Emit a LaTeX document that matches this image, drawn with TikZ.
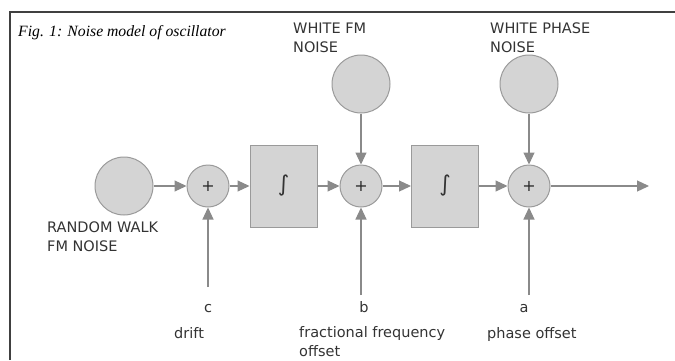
\documentclass[tikz,border=0pt]{standalone}
\usepackage{fontspec}
\setmainfont{Liberation Serif}
\newfontfamily\labfont{DejaVu Sans}
\usetikzlibrary{arrows.meta}
\definecolor{fillg}{HTML}{D4D4D4}
\definecolor{edgeg}{HTML}{9A9A9A}
\definecolor{arrg}{HTML}{8A8A8A}
\definecolor{txtg}{HTML}{333333}
\begin{document}
\begin{tikzpicture}[x=1pt,y=-1pt,
  src/.style={circle,fill=fillg,draw=edgeg,line width=1pt,minimum size=58pt,inner sep=0pt},
  sumnode/.style={circle,fill=fillg,draw=edgeg,line width=1pt,minimum size=42pt,inner sep=0pt,font=\labfont\fontsize{16}{17}\selectfont,text=txtg!80!black},
  intbox/.style={rectangle,fill=fillg,draw=edgeg,line width=1pt,minimum width=67pt,minimum height=82pt,inner sep=0pt,font=\labfont\fontsize{22}{24}\selectfont,text=txtg},
  lab/.style={font=\labfont\fontsize{14.5}{18.5}\selectfont,text=txtg,inner sep=0pt,align=left},
  conn/.style={draw=arrg,line width=1.2pt,-{Triangle[length=12pt,width=11pt]}},
  plainline/.style={draw=arrg,line width=1.2pt}]
\useasboundingbox (0,0) rectangle (675,360);
% frame
\draw[line width=1.3pt,draw=black!75] (10,360) -- (10,12) -- (675,12);
% title
\node[anchor=base west,inner sep=0pt,font=\itshape\fontsize{15.7}{18}\selectfont] (title) at (18,36) {Fig. 1: Noise model of oscillator};
% sources
\node[src] (rw) at (124,186) {};
\node[src] (wfm) at (361,84) {};
\node[src] (wph) at (529,84) {};
% sums
\node[sumnode] (s1) at (208,186) {+};
\node[sumnode] (s2) at (361,186) {+};
\node[sumnode] (s3) at (529,186) {+};
% integrators
\node[intbox] (i1) at (283.5,186) {∫};
\node[intbox] (i2) at (445,186) {∫};
% input points
\coordinate (cin) at (208,287);
\coordinate (bin) at (361,295);
\coordinate (ain) at (529,295);
\coordinate (out) at (649,186);
% connectors
\draw[conn] (rw) -- (s1);
\draw[conn] (s1) -- (i1);
\draw[conn] (i1) -- (s2);
\draw[conn] (s2) -- (i2);
\draw[conn] (i2) -- (s3);
\draw[conn] (s3) -- (out);
\draw[conn] (wfm) -- (s2);
\draw[conn] (wph) -- (s3);
\draw[conn] (cin) -- (s1);
\draw[conn] (bin) -- (s2);
\draw[conn] (ain) -- (s3);
% labels (base anchor = last line's baseline)
\node[lab,anchor=base west] (lwfm) at (293,52) {WHITE FM\\NOISE};
\node[lab,anchor=base west] (lwph) at (490,52) {WHITE PHASE\\NOISE};
\node[lab,anchor=base west] (lrw) at (47,251) {RANDOM WALK\\FM NOISE};
\node[lab,anchor=base] (lc) at (208,312) {c};
\node[lab,anchor=base] (lb) at (364,312) {b};
\node[lab,anchor=base] (la) at (524,312) {a};
\node[lab,anchor=base west] (ldrift) at (174,338) {drift};
\node[lab,anchor=base west] (lfreq) at (299,356) {fractional frequency\\offset};
\node[lab,anchor=base west] (lphase) at (487,338) {phase offset};
\end{tikzpicture}
\end{document}
